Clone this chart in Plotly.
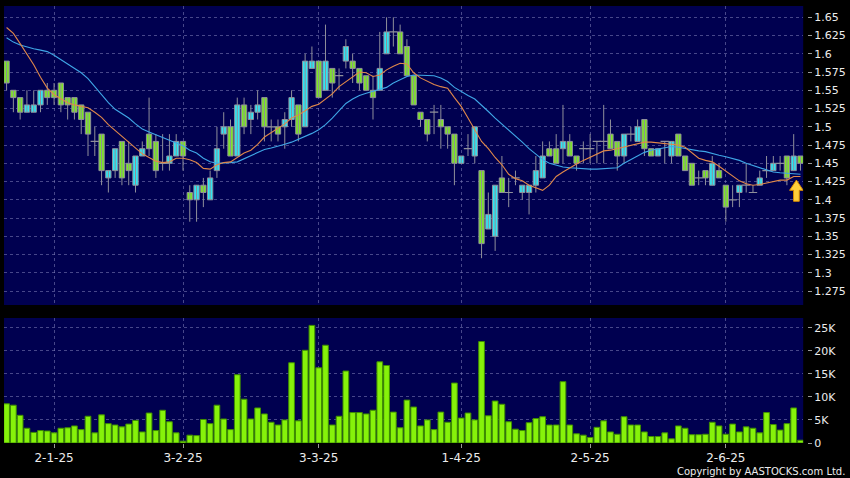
import plotly.graph_objects as go
import pandas as pd

# ---------------- data ----------------
HOLIDAYS = ["2024-12-25", "2024-12-26", "2025-01-01", "2025-01-29", "2025-01-30",
            "2025-01-31", "2025-04-04", "2025-04-18", "2025-04-21", "2025-05-01", "2025-05-05"]
_days = [d for d in pd.bdate_range("2024-12-19", "2025-06-17") if d.strftime("%Y-%m-%d") not in HOLIDAYS]
dates = [f"{d.day}-{d.month}-{d.year % 100:02d}" for d in _days]

TICK_LABELS = ["2-1-25", "3-2-25", "3-3-25", "1-4-25", "2-5-25", "2-6-25"]

open_ = [1.59,1.55,1.54,1.52,1.52,1.53,1.55,1.55,1.56,1.54,
         1.54,1.53,1.52,1.48,1.49,1.43,1.44,1.48,1.45,1.42,
         1.46,1.49,1.48,1.45,1.45,1.46,1.48,1.41,1.40,1.42,
         1.40,1.44,1.49,1.50,1.46,1.53,1.51,1.52,1.54,1.50,
         1.50,1.50,1.51,1.53,1.50,1.58,1.59,1.55,1.58,1.57,
         1.59,1.59,1.58,1.57,1.55,1.55,1.60,1.63,1.63,1.61,
         1.57,1.52,1.51,1.52,1.51,1.50,1.49,1.45,1.47,1.46,
         1.44,1.36,1.35,1.43,1.41,1.43,1.41,1.41,1.42,1.43,
         1.47,1.47,1.47,1.48,1.46,1.47,1.47,1.48,1.48,1.49,
         1.48,1.46,1.49,1.48,1.51,1.47,1.46,1.48,1.46,1.49,
         1.46,1.45,1.43,1.44,1.42,1.44,1.42,1.40,1.41,1.42,
         1.41,1.42,1.44,1.44,1.45,1.46,1.44,1.46]
high = [1.59,1.55,1.54,1.55,1.55,1.55,1.56,1.56,1.56,1.54,
        1.54,1.53,1.52,1.50,1.49,1.44,1.47,1.48,1.48,1.46,
        1.48,1.54,1.49,1.49,1.49,1.49,1.48,1.42,1.42,1.43,
        1.44,1.50,1.52,1.51,1.54,1.54,1.53,1.55,1.54,1.51,
        1.51,1.52,1.55,1.53,1.60,1.61,1.59,1.64,1.58,1.58,
        1.62,1.60,1.58,1.57,1.57,1.63,1.65,1.65,1.64,1.62,
        1.57,1.52,1.51,1.53,1.53,1.50,1.49,1.46,1.49,1.50,
        1.44,1.41,1.42,1.46,1.43,1.44,1.42,1.42,1.46,1.48,
        1.48,1.49,1.53,1.49,1.46,1.48,1.49,1.48,1.53,1.51,
        1.48,1.49,1.50,1.51,1.51,1.47,1.47,1.48,1.48,1.49,
        1.46,1.45,1.44,1.44,1.46,1.45,1.42,1.42,1.42,1.45,
        1.42,1.44,1.46,1.46,1.46,1.46,1.49,1.46]
low = [1.55,1.52,1.51,1.52,1.52,1.52,1.53,1.53,1.52,1.51,
       1.51,1.49,1.46,1.46,1.42,1.41,1.43,1.42,1.42,1.41,
       1.46,1.46,1.43,1.44,1.44,1.46,1.44,1.37,1.37,1.39,
       1.40,1.43,1.47,1.46,1.46,1.49,1.49,1.51,1.48,1.48,
       1.48,1.47,1.50,1.48,1.50,1.58,1.54,1.55,1.54,1.55,
       1.58,1.56,1.55,1.55,1.51,1.55,1.60,1.61,1.60,1.57,
       1.53,1.50,1.48,1.49,1.47,1.47,1.42,1.45,1.46,1.45,
       1.32,1.36,1.33,1.41,1.39,1.42,1.40,1.38,1.41,1.43,
       1.46,1.45,1.45,1.46,1.44,1.45,1.45,1.45,1.45,1.47,
       1.44,1.45,1.48,1.48,1.46,1.46,1.46,1.45,1.45,1.46,
       1.44,1.42,1.42,1.42,1.42,1.43,1.37,1.39,1.39,1.41,
       1.41,1.42,1.43,1.44,1.44,1.42,1.44,1.44]
close = [1.56,1.54,1.52,1.53,1.53,1.55,1.54,1.54,1.53,1.53,
         1.52,1.51,1.49,1.48,1.44,1.44,1.47,1.43,1.44,1.46,
         1.47,1.47,1.44,1.45,1.46,1.48,1.46,1.40,1.42,1.41,
         1.43,1.47,1.50,1.46,1.53,1.50,1.52,1.53,1.50,1.50,
         1.49,1.51,1.54,1.49,1.59,1.59,1.54,1.59,1.56,1.57,
         1.61,1.58,1.56,1.55,1.54,1.58,1.63,1.63,1.60,1.57,
         1.53,1.51,1.49,1.52,1.50,1.49,1.45,1.46,1.47,1.50,
         1.34,1.38,1.42,1.41,1.41,1.43,1.42,1.42,1.44,1.46,
         1.46,1.45,1.48,1.46,1.45,1.47,1.47,1.48,1.48,1.47,
         1.46,1.49,1.49,1.50,1.47,1.46,1.47,1.48,1.48,1.46,
         1.44,1.42,1.43,1.43,1.45,1.43,1.39,1.40,1.42,1.42,
         1.41,1.43,1.44,1.45,1.45,1.43,1.46,1.45]
volume_k = [8.5,8.2,6.0,3.2,2.3,2.7,2.6,2.2,3.2,3.3,
            3.7,2.9,5.8,2.2,6.1,4.2,3.9,3.5,4.1,4.9,
            2.4,6.5,2.7,7.1,4.6,2.2,0.4,1.7,1.6,5.1,
            4.2,8.2,5.2,2.9,14.8,9.5,5.2,7.6,6.3,4.5,
            3.9,5.0,17.4,4.8,20.1,25.5,16.3,21.2,3.9,5.8,
            15.6,6.6,6.6,6.3,7.1,17.6,16.8,6.7,3.3,9.3,
            7.8,3.7,5.0,2.9,6.7,4.5,13.0,5.4,6.5,5.0,
            22.0,5.9,9.1,8.4,4.6,3.0,2.7,4.4,5.3,5.7,
            3.9,3.9,13.3,3.9,2.0,1.7,1.2,3.4,4.8,2.4,
            1.9,5.7,3.9,3.9,2.4,1.4,1.4,2.2,0.9,3.7,
            3.2,1.8,1.8,1.9,4.5,3.7,1.9,4.1,2.4,3.5,
            3.2,2.2,6.6,4.0,2.8,4.2,7.6,0.6]
ma10 = [1.636,1.628,1.614,1.600,1.585,1.568,1.553,1.544,1.538,1.533,
        1.530,1.528,1.526,1.520,1.513,1.503,1.495,1.487,1.478,1.470,
        1.463,1.458,1.453,1.451,1.452,1.457,1.457,1.455,1.451,1.443,
        1.442,1.448,1.451,1.452,1.458,1.464,1.468,1.476,1.486,1.492,
        1.498,1.504,1.512,1.516,1.522,1.528,1.531,1.538,1.545,1.555,
        1.562,1.569,1.575,1.574,1.569,1.571,1.578,1.583,1.587,1.586,
        1.574,1.567,1.562,1.558,1.555,1.553,1.540,1.528,1.512,1.496,
        1.480,1.470,1.458,1.448,1.435,1.429,1.426,1.420,1.417,1.413,
        1.420,1.432,1.438,1.444,1.449,1.454,1.458,1.462,1.467,1.468,
        1.470,1.472,1.474,1.477,1.479,1.479,1.478,1.478,1.477,1.475,
        1.472,1.464,1.457,1.454,1.452,1.446,1.439,1.432,1.426,1.422,
        1.420,1.421,1.423,1.425,1.427,1.427,1.432,1.432]
ma20 = [1.622,1.616,1.612,1.609,1.607,1.605,1.603,1.598,1.592,1.586,
        1.580,1.574,1.566,1.555,1.545,1.533,1.524,1.518,1.512,1.504,
        1.497,1.493,1.489,1.486,1.482,1.478,1.474,1.468,1.464,1.457,
        1.452,1.450,1.450,1.451,1.452,1.456,1.460,1.465,1.469,1.471,
        1.473,1.476,1.479,1.483,1.486,1.491,1.496,1.503,1.512,1.522,
        1.532,1.538,1.543,1.546,1.549,1.551,1.554,1.560,1.564,1.569,
        1.571,1.571,1.571,1.570,1.567,1.562,1.554,1.548,1.543,1.538,
        1.530,1.521,1.512,1.504,1.495,1.487,1.479,1.470,1.462,1.455,
        1.450,1.447,1.445,1.444,1.443,1.442,1.442,1.442,1.443,1.444,
        1.444,1.450,1.455,1.460,1.465,1.468,1.470,1.472,1.473,1.472,
        1.470,1.469,1.467,1.466,1.463,1.461,1.459,1.457,1.454,1.450,
        1.447,1.444,1.441,1.438,1.437,1.436,1.435,1.435]

PRICE_TICKS = [1.275, 1.3, 1.325, 1.35, 1.375, 1.4, 1.425, 1.45, 1.475, 1.5,
               1.525, 1.55, 1.575, 1.6, 1.625, 1.65]
VOL_TICKS = [0, 5000, 10000, 15000, 20000, 25000]
VOL_LABELS = ["0", "5K", "10K", "15K", "20K", "25K"]

# ---------------- style ----------------
BG = "#000000"
PANEL = "#000050"
GRID = "rgba(130,130,185,0.55)"
CYAN = "#2ee6f4"
GREEN = "#7ee626"
WICK = "#8f8f9a"
LIME = "#86f20a"
LIME_EDGE = "#3f8f00"
ORANGE = "#e0884a"
BLUE = "#3fa6e6"
TXT = "#ececec"
FONT = "DejaVu Sans"
BODY_W = 0.78

n = len(dates)
xs = list(range(n))
volume = [v * 1000 for v in volume_k]
tick_idx = [dates.index(t) for t in TICK_LABELS]

# wicks
wx, wy = [], []
for i in xs:
    wx += [i, i, None]
    wy += [low[i], high[i], None]

# bodies (non-doji) and dojis
body_x, body_base, body_h, body_col = [], [], [], []
doji_x, doji_y = [], []
for i in xs:
    o, c = open_[i], close[i]
    if abs(c - o) < 1e-9:
        doji_x.append(i)
        doji_y.append(c)
    else:
        body_x.append(i)
        body_base.append(min(o, c))
        body_h.append(abs(c - o))
        body_col.append(CYAN if c > o else GREEN)

fig = go.Figure()
fig.add_trace(go.Scatter(x=wx, y=wy, mode="lines", line=dict(color=WICK, width=1),
                         showlegend=False, hoverinfo="skip", xaxis="x", yaxis="y"))
fig.add_trace(go.Bar(x=body_x, y=body_h, base=body_base, width=BODY_W,
                     marker=dict(color=body_col, line=dict(color=WICK, width=1)),
                     showlegend=False, hoverinfo="skip", xaxis="x", yaxis="y"))
fig.add_trace(go.Scatter(x=doji_x, y=doji_y, mode="markers",
                         marker=dict(symbol="line-ew", size=6, line=dict(color=WICK, width=1.2)),
                         showlegend=False, hoverinfo="skip", xaxis="x", yaxis="y"))
fig.add_trace(go.Scatter(x=xs, y=ma20, mode="lines", line=dict(color=BLUE, width=1.1),
                         showlegend=False, hoverinfo="skip", xaxis="x", yaxis="y"))
fig.add_trace(go.Scatter(x=xs, y=ma10, mode="lines", line=dict(color=ORANGE, width=1.1),
                         showlegend=False, hoverinfo="skip", xaxis="x", yaxis="y"))

# block arrow below last MA point
ax = n - 1.6
tip = ma10[-1] - 0.005
hw, sw, hh, sh = 1.0, 0.42, 0.014, 0.029
arrow_x = [ax, ax + hw, ax + sw, ax + sw, ax - sw, ax - sw, ax - hw, ax]
arrow_y = [tip, tip - hh, tip - hh, tip - sh, tip - sh, tip - hh, tip - hh, tip]
fig.add_trace(go.Scatter(x=arrow_x, y=arrow_y, mode="lines", fill="toself",
                         fillcolor="#ffcf3a", line=dict(color="#d98c00", width=1),
                         showlegend=False, hoverinfo="skip", xaxis="x", yaxis="y"))

fig.add_trace(go.Bar(x=xs, y=volume, width=0.84,
                     marker=dict(color=LIME, line=dict(color=LIME_EDGE, width=1)),
                     showlegend=False, hoverinfo="skip", xaxis="x2", yaxis="y2"))

L, R, T, B = 4, 4, 6, 35
W, H = 850, 478
pw, ph = W - L - R, H - T - B
xdom_end = (807 - L) / pw
ypos = (811 - L) / pw
price_dom = [(443 - 305) / ph, 1.0]
vol_dom = [0.0, (443 - 318) / ph]
xr = [-0.38, 117.4]

grid_common = dict(showgrid=True, gridcolor=GRID, gridwidth=1, griddash="3px,3px",
                   zeroline=False, showline=False)

fig.update_layout(
    width=W, height=H, autosize=False,
    margin=dict(l=L, r=R, t=T, b=B),
    paper_bgcolor=BG, plot_bgcolor=PANEL,
    font=dict(family=FONT, color=TXT, size=11),
    barmode="overlay",
    xaxis=dict(domain=[0, xdom_end], anchor="y", range=xr, tickvals=tick_idx,
               showticklabels=False, ticks="", **grid_common),
    xaxis2=dict(domain=[0, xdom_end], anchor="y2", range=xr, matches="x",
                tickvals=tick_idx, ticktext=TICK_LABELS, ticks="outside", ticklen=4,
                tickcolor="#9a9a9a", tickfont=dict(size=12, color=TXT, family=FONT),
                **grid_common),
    yaxis=dict(domain=price_dom, anchor="free", position=ypos, side="right",
               range=[1.2559, 1.6655], tickvals=PRICE_TICKS,
               ticktext=[f"{v:g}" for v in PRICE_TICKS], ticks="outside", ticklen=4,
               tickcolor="#9a9a9a", tickfont=dict(size=11, color=TXT, family=FONT),
               **grid_common),
    yaxis2=dict(domain=vol_dom, anchor="free", position=ypos, side="right",
                range=[0, 27100], tickvals=VOL_TICKS, ticktext=VOL_LABELS,
                ticks="outside", ticklen=4, tickcolor="#9a9a9a",
                tickfont=dict(size=11, color=TXT, family=FONT), **grid_common),
    annotations=[dict(text="Copyright by AASTOCKS.com Ltd.", xref="paper", yref="paper",
                      x=(851 - L) / pw, y=-(471 - 443) / ph, xanchor="right",
                      yanchor="middle", showarrow=False,
                      font=dict(size=10, color=TXT, family=FONT))],
)

fig.write_html("out.html", config={"displayModeBar": False, "staticPlot": True},
               post_script="document.body.style.margin='0';document.body.style.background='#000';")
